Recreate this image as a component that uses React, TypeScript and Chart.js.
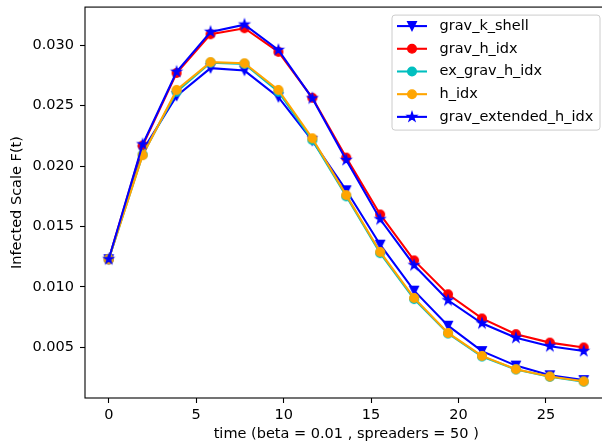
import React, { useEffect, useRef } from 'react';
import { Chart, registerables } from 'chart.js';

Chart.register(...registerables);

const timeSteps = [0, 1.94, 3.88, 5.82, 7.76, 9.7, 11.64, 13.58, 15.52, 17.46, 19.4, 21.34, 23.28, 25.22, 27.16];
const gravKShell = [0.0123, 0.0213, 0.0258, 0.0281, 0.0279, 0.0257, 0.0221, 0.0180, 0.0135, 0.0097, 0.0068, 0.0047, 0.0035, 0.0027, 0.0023];
const gravHIdx = [0.0123, 0.0217, 0.0277, 0.0309, 0.0314, 0.02945, 0.02565, 0.0207, 0.0160, 0.0122, 0.0094, 0.0074, 0.0061, 0.0054, 0.0050];
const exGravHIdx = [0.0123, 0.02095, 0.02615, 0.02855, 0.02845, 0.02615, 0.02215, 0.01750, 0.01280, 0.00900, 0.00615, 0.00425, 0.00318, 0.00257, 0.00217];
const hIdx = [0.0123, 0.0209, 0.0263, 0.0286, 0.0285, 0.0263, 0.0223, 0.0176, 0.0129, 0.0091, 0.0062, 0.0043, 0.0032, 0.0026, 0.0022];
const gravExtendedHIdx = [0.0123, 0.0218, 0.0278, 0.0311, 0.0317, 0.0296, 0.0256, 0.0205, 0.0156, 0.0118, 0.0089, 0.0070, 0.0058, 0.0051, 0.0047];

const seriesNames = ['grav_k_shell', 'grav_h_idx', 'ex_grav_h_idx', 'h_idx', 'grav_extended_h_idx'];
const seriesColors = ['#0000ff', '#ff0000', '#00bfbf', '#ffa500', '#0000ff'];
const seriesMarkers = ['tri', 'circle', 'circle', 'circle', 'star'];
const seriesValues = [gravKShell, gravHIdx, exGravHIdx, hIdx, gravExtendedHIdx];

const xTicks = [0, 5, 10, 15, 20, 25];
const yTicks = [0.005, 0.01, 0.015, 0.02, 0.025, 0.03];

const FONT = 'DejaVu Sans';
const FS = 14.5;
const MR = 4.3;
const PLOT_RIGHT = 607.5;

function drawMarker(ctx: CanvasRenderingContext2D, kind: string, color: string, r: number) {
  ctx.save();
  ctx.fillStyle = color;
  ctx.strokeStyle = color;
  ctx.lineWidth = 1.4;
  ctx.lineJoin = 'miter';
  ctx.beginPath();
  if (kind === 'circle') {
    ctx.arc(0, 0, r, 0, Math.PI * 2);
  } else if (kind === 'tri') {
    ctx.moveTo(0, r);
    ctx.lineTo(-r, -r);
    ctx.lineTo(r, -r);
    ctx.closePath();
  } else {
    for (let k = 0; k < 10; k++) {
      const rad = k % 2 === 0 ? r * 1.1 : r * 1.1 * 0.381966;
      const a = -Math.PI / 2 + (k * Math.PI) / 5;
      const px = rad * Math.cos(a);
      const py = rad * Math.sin(a);
      if (k === 0) ctx.moveTo(px, py);
      else ctx.lineTo(px, py);
    }
    ctx.closePath();
  }
  ctx.fill();
  ctx.stroke();
  ctx.restore();
}

function makeMarker(kind: string, color: string) {
  const size = 16;
  const c = document.createElement('canvas');
  c.width = size;
  c.height = size;
  const ctx = c.getContext('2d')!;
  ctx.translate(size / 2, size / 2);
  drawMarker(ctx, kind, color, MR);
  return c;
}

const extendPlugin = {
  id: 'extendRight',
  afterLayout(chart: any) {
    const ca = chart.chartArea;
    ca.right = PLOT_RIGHT;
    ca.width = ca.right - ca.left;
    const xs = chart.scales.x;
    xs.right = PLOT_RIGHT;
    xs.width = xs.right - xs.left;
    xs.configure();
  },
};

const framePlugin = {
  id: 'mplFrame',
  afterDraw(chart: any) {
    const { ctx, chartArea } = chart;
    ctx.save();
    ctx.strokeStyle = '#000';
    ctx.lineWidth = 1.1;
    ctx.strokeRect(chartArea.left, chartArea.top, chartArea.right - chartArea.left, chartArea.bottom - chartArea.top);

    // legend
    const w = 208;
    const h = 115;
    const x0 = chartArea.right - 7.5 - w;
    const y0 = chartArea.top + 8;
    const rr = 3;
    ctx.beginPath();
    ctx.moveTo(x0 + rr, y0);
    ctx.lineTo(x0 + w - rr, y0);
    ctx.quadraticCurveTo(x0 + w, y0, x0 + w, y0 + rr);
    ctx.lineTo(x0 + w, y0 + h - rr);
    ctx.quadraticCurveTo(x0 + w, y0 + h, x0 + w - rr, y0 + h);
    ctx.lineTo(x0 + rr, y0 + h);
    ctx.quadraticCurveTo(x0, y0 + h, x0, y0 + h - rr);
    ctx.lineTo(x0, y0 + rr);
    ctx.quadraticCurveTo(x0, y0, x0 + rr, y0);
    ctx.closePath();
    ctx.fillStyle = 'rgba(255,255,255,0.8)';
    ctx.fill();
    ctx.strokeStyle = '#cccccc';
    ctx.lineWidth = 1;
    ctx.stroke();

    ctx.font = `${FS}px "${FONT}"`;
    ctx.textBaseline = 'middle';
    ctx.textAlign = 'left';
    seriesNames.forEach((name, k) => {
      const cy = y0 + 11 + k * 22.7;
      ctx.strokeStyle = seriesColors[k];
      ctx.lineWidth = 2.08;
      ctx.beginPath();
      ctx.moveTo(x0 + 5, cy);
      ctx.lineTo(x0 + 35, cy);
      ctx.stroke();
      ctx.save();
      ctx.translate(x0 + 20, cy);
      drawMarker(ctx, seriesMarkers[k], seriesColors[k], MR);
      ctx.restore();
      ctx.fillStyle = '#000';
      ctx.fillText(name, x0 + 47.5, cy);
    });
    ctx.restore();
  },
};

export default function App() {
  const ref = useRef<HTMLCanvasElement | null>(null);

  useEffect(() => {
    if (!ref.current) return;
    const datasets = seriesNames.map((name, k) => ({
      label: name,
      data: timeSteps.map((t, i) => ({ x: t, y: seriesValues[k][i] })),
      borderColor: seriesColors[k],
      backgroundColor: seriesColors[k],
      borderWidth: 2.08,
      pointStyle: makeMarker(seriesMarkers[k], seriesColors[k]),
      pointRadius: 5,
      pointHoverRadius: 5,
      fill: false,
      tension: 0,
      order: seriesNames.length - k,
    }));

    const tickFont = { family: FONT, size: FS };

    const chart = new Chart(ref.current, {
      type: 'line',
      data: { datasets },
      plugins: [extendPlugin, framePlugin],
      options: {
        animation: false,
        responsive: false,
        maintainAspectRatio: false,
        layout: { padding: { top: 7, left: 0, right: 0, bottom: 0 } },
        plugins: { legend: { display: false }, tooltip: { enabled: false } },
        scales: {
          x: {
            type: 'linear',
            min: -1.358,
            max: 28.518,
            afterBuildTicks: (s: any) => {
              s.ticks = xTicks.map((v) => ({ value: v }));
            },
            afterFit: (s: any) => {
              s.height = 48;
              s.paddingLeft = 0;
              s.paddingRight = 0;
              s.paddingTop = 0;
              s.paddingBottom = 0;
            },
            ticks: {
              font: tickFont,
              color: '#000',
              padding: 4,
              maxRotation: 0,
              callback: (v: any) => String(v),
            },
            grid: { drawOnChartArea: false, drawTicks: true, tickLength: 5, tickColor: '#000', tickWidth: 1.1 },
            border: { display: false },
            title: {
              display: true,
              text: 'time (beta = 0.01 , spreaders = 50 )',
              font: tickFont,
              color: '#000',
              padding: { top: 0, bottom: 3 },
            },
          },
          y: {
            type: 'linear',
            min: 0.00082,
            max: 0.03315,
            afterBuildTicks: (s: any) => {
              s.ticks = yTicks.map((v) => ({ value: v }));
            },
            afterFit: (s: any) => {
              s.width = 85;
              s.paddingLeft = 0;
              s.paddingRight = 0;
              s.paddingTop = 0;
              s.paddingBottom = 0;
            },
            ticks: {
              font: tickFont,
              color: '#000',
              padding: 6,
              callback: (v: any) => Number(v).toFixed(3),
            },
            grid: { drawOnChartArea: false, drawTicks: true, tickLength: 5, tickColor: '#000', tickWidth: 1.1 },
            border: { display: false },
            title: {
              display: true,
              text: 'Infected Scale F(t)',
              font: tickFont,
              color: '#000',
              padding: { top: 9, bottom: 0 },
            },
          },
        },
      } as any,
    });
    return () => chart.destroy();
  }, []);

  return (
    <div style={{ position: 'fixed', left: 0, top: 0, width: 602, height: 446, overflow: 'hidden', background: '#fff' }}>
      <canvas ref={ref} width={602} height={446} style={{ display: 'block', width: 602, height: 446 }} />
    </div>
  );
}
